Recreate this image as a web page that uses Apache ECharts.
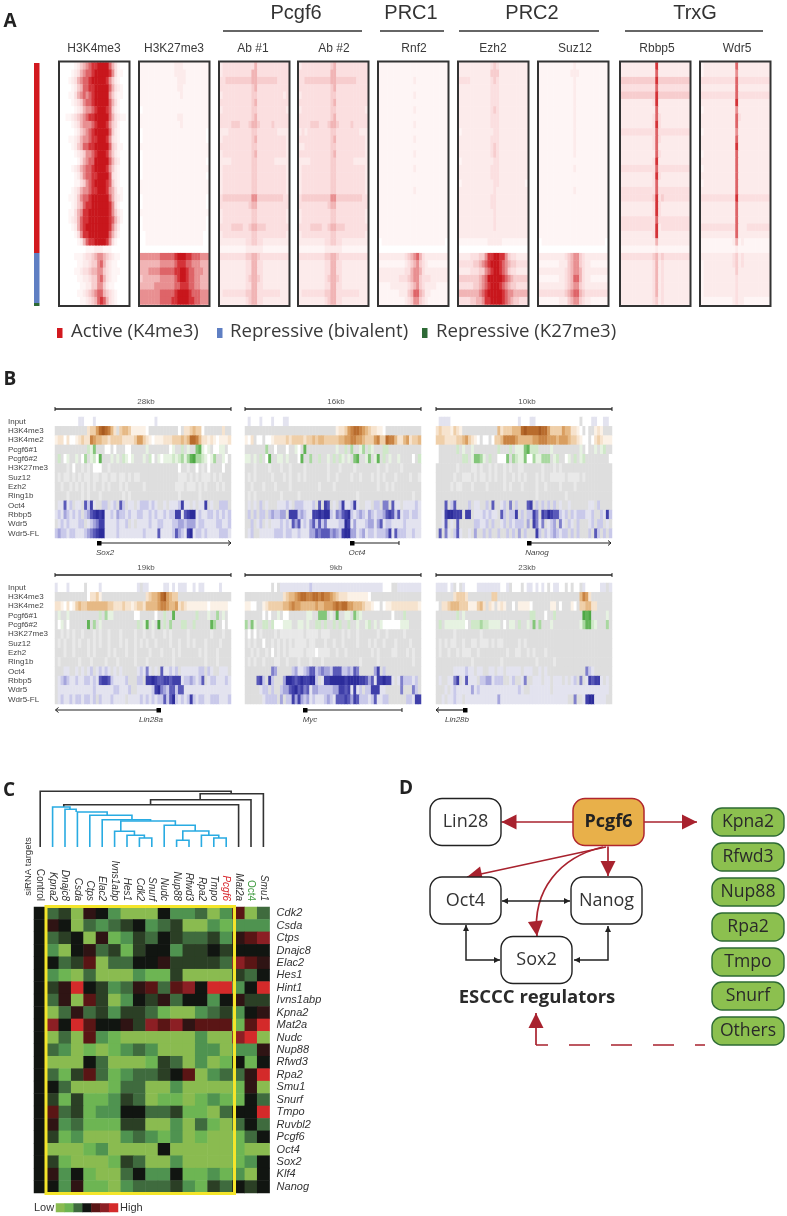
<!DOCTYPE html>
<html><head><meta charset="utf-8">
<style>html,body{margin:0;padding:0;background:#fff}#c{width:787px;height:1216px}</style>
<script src="https://cdn.jsdelivr.net/npm/echarts@6/dist/echarts.min.js"></script>
</head><body><div id="c"></div>
<script>
// ---------- Panel A: tag-density matrices (rows top to bottom, digit = signal 0-9) ----------
const a_H3K4me3=["000001245678899997531000","000012356778999998631100","000123567789999986421000","000012457788999997532100","000113567678999996421100","000012346778999997531000","000001235667899987421000","001123456788999997532110","000012356667899986431000","000001245678999997421000","000112356678899986321000","000012457788999997431100","000001234667899986421000","000000135677999997532000","000012356778999986421000","000001246778899997321000","000001134678999987421000","000012356678899986531100","000112467789999997532100","000012457889999998631000","000113568899999998642100","000123578899999998753100","000012578999999998642000","000001368899999997531000","000000125788999986310000","000000000111222111000000","000001112334566543211000","000000112234467532110000","000001123345566432111000","000000112234467532110000","000000011224466421100000","000000112345677543210000","000000011234578753210000"];
const a_H3K27me3=["111111111111222111111111","111111111111222211111111","111111111111122211111111","111111111111122111111111","111111111111112111111111","111111111111111111111111","011111111111111111111111","111111111111122111111111","111111111111112111111111","011111111111111111111110","011111111111111111111110","111111111111111111111111","011111111111111111111111","011111111111111111111110","011111111111111111111111","011111111111111111111110","111111111111111111111111","111111111111111111111111","011111111111111111111110","011111111111111111111110","111111111111111111111111","011111111111111111111110","011111111111111111111110","001111111111111111111100","001111111111111111111100","000000000000000000000000","666666677777899988777666","555555566666788877666555","555666677777889987766655","455555566666789987766555","555556666666778887766555","666666677777899998777666","666666677778899998877666"];
const a_Ab1=["233333333333533333333333","233333333335533333333333","334444444445544444443333","333333333334533333333333","233333333334433333333323","333333333334533333333333","233333333334433333333332","333333333334533333333333","333344433345543333433333","222333333334433333332222","233333333334533333333332","333333333334433333333332","233333333334533333333332","222233333334433333322222","233333333334433333333332","233333333334433333333332","233333333334433333333332","233333333334433333333332","344444444446644444444433","333333333345533333333333","233333333334433333333332","233333333334433333333332","333344443345544433333333","233333333334433333333332","222222222334433222222222","111111111222222111111111","333333333445543333333333","222222222335533222222222","222222222335533222222222","222222222345543222222222","222222222335533222222222","233333333445533333333222","222222222345533222222222"];
const a_Ab2=["233333333334533333333333","333333333335533333333333","334444444445544444443333","333333333334533333333333","233333333334433333333333","333333333334533333333333","233333333334433333333332","333333333334533333333333","333344433345543333433333","232333333334433333333222","333333333334533333333332","223333333334433333333332","333333333334533333333332","222233333334433333322222","233333333334433333333332","233333333334433333333332","233333333334433333333332","233333333334433333333332","344444444446644444444433","333333333345533333333333","233333333334433333333332","233333333334433333333332","333344443345544433333333","233333333334433333333332","222222222334433222222222","111111111222222111111111","333333333445543333333333","222222222335533222222222","222222222335533222222222","222222222345543222222222","222222222335533222222222","233333333445533333333222","222222222345533222222222"];
const a_Rnf2=["111111111111111111111111","111111111111111111111111","111111111111211111111111","111111111111111111111111","111111111111211111111111","111111111111111111111111","111111111111211111111111","111111111111111111111111","111111111111211111111111","111111111111111111111111","111111111111211111111111","111111111111111111111111","111111111111211111111111","111111111111111111111111","111111111111211111111111","111111111111111111111111","111111111111111111111111","111111111111211111111111","111111111111111111111111","111111111111111111111111","111111111111111111111111","111111111111111111111111","111111111111111111111111","111111111111111111111111","011111111111111111111110","000000000000000000000000","222222222345675322222222","111111111234564321111111","222222222335665322222222","222222233345664333222222","111122222234564322221111","111111122245775422111111","111111111234664321111111"];
const a_Ezh2=["222222222223432222222222","222222222224442222222222","333322222223432222222222","222222222223332222222222","222222222223332222222222","222222222223332222222222","222222222223432222222222","222222222223332222222222","222222222223332222222222","122222222222332222222222","222222222223332222222222","222222222223432222222222","222222222223432222222222","122222222222332222222222","222222222223332222222222","222222222223332222222222","122222222222332222222221","222222222222322222222222","222222222223322222222222","222222222223322222222222","222222222222322222222222","222222222222322222222222","222222222222322222222222","222222222222222222222222","111111111122222111111111","000000000000000000000000","222233344688998864332222","333334456789998765443333","222233344678998764332222","444444456799999876544444","333334456789998765443333","555555567899999876655555","333344556889999876544333"];
const a_Suz12=["111111111111211111111111","111111111112221111111111","111111111111211111111111","111111111111211111111111","111111111111211111111111","111111111111211111111111","111111111111211111111111","111111111111211111111111","111111111111211111111111","111111111111211111111111","111111111111211111111111","111111111111211111111111","111111111111211111111111","111111111111111111111111","111111111111211111111111","111111111111111111111111","111111111111111111111111","111111111111211111111111","111111111111111111111111","111111111111111111111111","111111111111111111111111","111111111111111111111111","111111111111111111111111","111111111111111111111111","011111111111111111111110","000000000000000000000000","222222222345664322222222","111111122245664322111111","222222222345665322222222","111111122345775322111111","222222222345664322222222","333333333456775433333333","111111122245664322111111"];
const a_Rbbp5=["222222222222822222222222","222222222222722222222222","444444444444844444444444","333333333333733333333333","444444444444844444444444","222222222223822222222222","222222222222722222222222","222222222223732222222222","222222222223832222222222","333333333333733333333333","222222222223732222222222","222222222223722222222222","222222222222732222222222","222222222223822222222222","333333333333733333333333","222222222223832222222222","222222222223722222222222","333333333333733333333333","333333333334834333333333","222222222223832222222222","222222222223832222222222","333333333333733333333333","333333333333823333333333","222222222223822222222222","222222222222522222222222","111111111111211111111111","333333333334534333333333","222222222223523222222222","222222222223523222222222","222222222223523222222222","222222222223523222222222","222222222223523222222222","222222222223423222222222"];
const a_Wdr5=["122222222222722222222222","122222222222622222222222","333333333333733333333333","222222222222722222222222","333333333333733333333333","222222222222822222222222","122222222222622222222222","222222222222732222222222","222222222222722222222222","122222222222622222222222","222222222222722222222222","222222222222822222222222","122222222222722222222222","222222222222722222222222","122222222222722222222222","222222222222722222222222","122222222222722222222222","222222222222722222222222","333333333333833333333333","222222222222722222222222","222222222222722222222222","222222222222722222222222","333333333333722233333333","222222222222722222222222","111111111112512111111111","111111111111211111111111","222222222223423222222222","122222222223423222222222","122222222222422222222222","122222222222322222222222","122222222222322222222222","122222222222322222222222","111111111112322111111111"];
const heatmapA=[["H3K4me3",a_H3K4me3],["H3K27me3",a_H3K27me3],["Ab #1",a_Ab1],["Ab #2",a_Ab2],["Rnf2",a_Rnf2],["Ezh2",a_Ezh2],["Suz12",a_Suz12],["Rbbp5",a_Rbbp5],["Wdr5",a_Wdr5]];
const heatLefts=[59,139,219,298,378,458,538,620,700];
const redScale=['#ffffff','#fef5f5','#fcebeb','#fbdfe0','#f7cdce','#f1b4b5','#e88f91','#de6468','#d43338','#c8161c'];
const groupTitles=[["Pcgf6",296,223,362],["PRC1",411,380,444],["PRC2",532,459,599],["TrxG",695,625,763]];
const classCounts=[["Active (K4me3)",190,'#d2191f'],["Repressive (bivalent)",50,'#5f7fc3'],["Repressive (K27me3)",3,'#2e6a36']];

// ---------- Panel B: genome browser tracks (digit = signal; 0 grey, 1 white, 2-9 rising) ----------
const trackNames=["Input","H3K4me3","H3K4me2","Pcgf6#1","Pcgf6#2","H3K27me3","Suz12","Ezh2","Ring1b","Oct4","Rbbp5","Wdr5","Wdr5-FL"];
const t_Sox2=["111111112211121111111111111111111121111111111111111111111111","000000000003446898753045542222210000000000103345441000000300","233131123433765544344443333466432122233344454588753323212223","000000000003250001101000110000020000000120030200562120112201","030120020140231600020203212000203102122232342467443212400210","000020100202011100200000000000000000000000100200102010000100","020220202022022022022022020220000000000000222020202220202000","002002020202020020200020200000200000000002220222020200020200","000020000202000200000002020000000000000000200000020000000000","022623022063720033023063022023332320020222372202022702003330","232432323034678782232433232233223232232337726788232233232323","023232223302345772222322302022223223322233443444233222233223","343323322234567882222322222222322226222236432782332322223332"];
const t_Oct4=["121112111211122111111111111111111111111111111111111111111111","000000000000000000000000000000023346788765433221000000000000","213011011233334344443445455444445566776654446744877533563445","000000040010001002106000000000020030400240320003300000000000","220203016002202000160040030020303202056002502603020020000103","000200002000200200002000000020002000020000000200200002000000","020200000200020200202000000020020000200200020202000200002002","002000200020000200000000020000200000000000000200202000000000","020200000000200000200000000000000000002000000000000000000200","020203020002223203332223060760203722372002203305506220222232","030303303433440777343227787883254678323432432334676362332332","003023020222323264623246363522223387242223442462332222322222","023002222233323322322244656664543788442342332333472633322322"];
const t_Nanog=["122221111111111111111111111121112211111111111111101112211221","343332432000000000000534445558988889886444465533210100232000","444333344564321011014457777655555667776665666544321101343222","100000030200200000000300030222563330000200000000020100202300","100000000330255420300111504322511422444023001203023000000001","000000020000220200202002020022000000200020200000000000000000","000000200222020220202002002020200020200222220222202000000000","000002022000200002000002020002000020020000200002000000000000","000000000000000000000000000000000020000000002000000000000000","000603600003022003060023050300067030303030200200000022030000","002788777077022232322063033703033750768766323032333223003273","002602060000033223030023032333040752502340520320300023033020","060520362002040030300300303040300073032343233030300030630303"];
const t_Lin28a=["211121111101111211111111111120221111122121222112122111112111","000000000001334200000000000000034556896544000000000000000000","332131245445555555443334332344355556776556343222222212222221","020020000000000304220000000110000010030060000000300020040201","012010000006040200000000000030260207030400033003000006400101","002020200200020200200020000200200200020200000200000002000200","020200202002020200200020200202020020000200200202000200002000","000200200002020000202000200200002000200020200000020200020000","020000002000200002000200000200020000000020000000000200020000","000220020202302323202020000023252020622323022222233032002220","023432232233232677632222300033077876677677723343236023322232","022222222222232222223322230022222378543663662222222222222222","023223233233230322232222022223232323363683232373233223332223"];
const t_Myc=["111111111010222222222232222222222222222222222221110022222222","000000000000034556788778878776543332222222100000000000000000","221100234444455676655555655666787886655543321101223333333332","000000101002011000000220055502060022053200000000001000300000","405200330311122200220200330300303003002002302021111112220000","010102000020233233220222202220000202002000000200200000200000","020200100202020202222022000200200200002000202002000200002000","002020020102020222220222122220020020000000020200002200020200","020200200022002000200020002000000000000200000200000000000200","000000000540000034223466345443666334365000004703000000000000","000067307300048876787788302778888878888776462778772025333230","000002330300344678675624433333447767272303377722000005000530","000000233330403374743423222343266676476333236223300000033277"];
const t_Lin28b=["222212010211112222222211201110122121210122110101102111112202","000000344430000000044000000000000000000000000000057630000000","103345554442224530320232001022221000000220100021044553300000","000000030200000000000000000000003300010030000000007670000020","030222222210333433222201022030020504000200000000024663200040","000000200000000200000000000000000000000000000000000000000000","020202200200220222020220000020200000000000000000000000000000","020020020222002000000000200220020200020000000000000000000000","000000000000200000000020000000000020000020000000000000000000","000000222232202200220220222220222002020000000000000532000000","020022570262220334423330023002500222022022202023050276772020","000202322222423222222222222232002222222022222222222222222220","002022322022222222222422222222222222222222222005002788222200"];
const trackPanels=[["28kb",t_Sox2,55,417,true],["16kb",t_Oct4,245,417,false],["10kb",t_Nanog,436,417,false],["19kb",t_Lin28a,55,583,true],["9kb",t_Myc,245,583,false],["23kb",t_Lin28b,436,583,false]];
const brownScale=['#dedede','#ffffff','#fbf1e6','#f6e3ce','#efcfa9','#e6b985','#d99e60','#c98343','#b96c2d','#a85a20'];
const greenScale=['#dedede','#ffffff','#e6f2e1','#cfe8c8','#a9d8a0','#84c67a','#62b457','#4fa845','#439c3a','#3a9232'];
const greyScale=['#dedede','#ffffff','#e9e9e9','#e8e8e8','#e4e4e4','#e2e2e2','#e0e0e0','#dedede','#dedede','#dedede'];
const blueScale=['#dedede','#ffffff','#e3e3ef','#c9c9ea','#a5a5dc','#7f7fcb','#5a5ab9','#3f3fa9','#2c2c9b','#20208c'];
const trackScales=[blueScale,brownScale,brownScale,greenScale,greenScale,greyScale,greyScale,greyScale,greyScale,blueScale,blueScale,blueScale,blueScale];
// gene models: [name, x of TSS box, x start, x end, arrow at end ('r','l','|'), label centre, row y]
const genes=[["Sox2",99,99,231,'r',105,543],["Oct4",352,352,399,'|',357,543],["Nanog",529,529,611,'r',537,543],["Lin28a",158.5,158.5,55.5,'l',151,710],["Myc",305,305,402,'|',310,710],["Lin28b",465,465,436,'l',457,710]];

// ---------- Panel C: siRNA expression matrix ----------
const siColumns=["Control","Kpna2","Dnajc8","Csda","Ctps","Elac2","Ivns1abp","Hes1","Cdk2","Snurf","Nudc","Nup88","Rfwd3","Rpa2","Tmpo","Pcgf6","Mat2a","Oct4","Smu1"];
const siRows=["Cdk2","Csda","Ctps","Dnajc8","Elac2","Hes1","Hint1","Ivns1abp","Kpna2","Mat2a","Nudc","Nup88","Rfwd3","Rpa2","Smu1","Snurf","Tmpo","Ruvbl2","Pcgf6","Oct4","Sox2","Klf4","Nanog"];
const siValues=[
[5,3,4,0,6,5,2,0,0,0,5,2,2,3,0,2,7,0,3],
[5,6,5,0,3,2,3,4,5,2,3,4,0,0,2,1,2,2,2],
[5,3,4,5,0,6,1,2,4,3,5,4,3,3,4,2,6,7,8],
[5,2,0,5,6,3,4,1,4,5,5,2,4,4,5,4,5,5,5],
[5,5,3,4,7,0,3,3,5,5,6,4,4,4,4,3,8,7,6],
[5,2,1,0,3,0,0,0,2,1,1,4,0,0,0,0,4,3,5],
[5,4,6,9,5,4,2,3,6,7,3,7,8,5,9,9,2,5,9],
[5,3,6,0,7,4,0,2,5,4,6,3,5,5,2,5,6,4,4],
[5,0,3,6,3,4,2,4,4,3,1,0,0,2,3,4,2,5,6],
[5,8,5,9,7,5,5,6,4,8,7,8,6,7,7,7,1,7,9],
[5,0,3,0,7,2,1,0,0,0,0,0,0,2,0,0,8,9,0],
[5,3,2,0,1,0,1,2,3,2,0,0,0,2,2,0,2,2,6],
[5,0,0,0,5,3,0,0,0,1,4,3,0,2,0,1,5,1,5],
[5,3,1,4,7,3,1,2,3,3,4,5,7,0,2,3,3,6,9],
[5,5,3,0,0,0,1,3,3,0,0,2,0,0,0,0,1,6,0],
[5,4,1,4,1,1,2,4,3,0,1,1,0,1,2,1,1,5,3],
[5,7,3,4,1,2,2,5,5,3,3,4,1,1,0,3,5,5,9],
[5,6,2,3,1,1,1,4,4,0,0,2,0,3,1,0,3,5,3],
[5,4,1,2,0,0,0,2,3,2,1,2,0,1,0,0,1,3,5],
[5,0,0,0,1,2,0,0,0,0,5,0,0,0,0,0,1,0,0],
[5,4,1,0,0,0,1,4,3,0,0,2,0,0,0,0,1,2,5],
[5,6,2,5,1,0,0,3,5,2,2,5,1,1,2,1,2,0,5],
[5,5,2,6,1,1,0,2,3,3,3,4,2,1,4,3,5,4,5]];
const siScale=['#8abb50','#6db553','#4f9350','#3f6b3e','#2b3f25','#111511','#2f1414','#5a1515','#8c1f24','#d42a2a'];
const legendSteps=[0,1,3,5,7,8,9];
// dendrogram merges: [x left, height of left child, x right, height of right child, merge height]
const dendroBlue=[[1,0,2.4,37.7,40],[2,0,2.9,35,37.7],[3,0,5.4,31.7,35],[4,0,7.4,27.3,31.7],[5,0,8.9,26,27.3],[6.5,15.7,10.9,21.7,26],[6,0,7.6,11.7,15.7],[7,0,8.4,9,11.7],[8,0,9,0,9],[10,0,12.5,16,21.7],[11.5,6.7,13.6,11.7,16],[11,0,12,0,6.7],[13,0,14.4,9,11.7],[14,0,15,0,9]];
const dendroBlack=[[0,0,15.4,53.3,55.7],[12.9,47.3,18,0,53.3],[8.9,42.3,17,0,47.3],[1.9,40,16,0,42.3]];

// ---------- Panel D: regulatory network ----------
const netNodes=[
 {n:"Lin28",x:465.5,y:822,k:'w'},{n:"Pcgf6",x:608.5,y:822,k:'o'},{n:"Oct4",x:465.5,y:900.5,k:'w'},{n:"Nanog",x:606.5,y:900.5,k:'w'},{n:"Sox2",x:536.5,y:960,k:'w'},
 {n:"Kpna2",x:748,y:822,k:'g'},{n:"Rfwd3",x:748,y:857,k:'g'},{n:"Nup88",x:748,y:892,k:'g'},{n:"Rpa2",x:748,y:927,k:'g'},{n:"Tmpo",x:748,y:962,k:'g'},{n:"Snurf",x:748,y:996,k:'g'},{n:"Others",x:748,y:1031,k:'g'}];
const netEdges=[
 {p:[[573,822],[501.5,822]],c:'r',end:15},{p:[[644,822],[697,822]],c:'r',end:15},{p:[[608,846.5],[608,876]],c:'r',end:15},{p:[[606,847],[467,877]],c:'r',end:15},
 {p:[[603,847],[560,857],[532,890],[537,936]],c:'r',end:15,curve:1},
 {p:[[502,901],[570,901]],c:'k',end:6,start:6},{p:[[466,925],[466,960],[500,960]],c:'k',end:6,start:6},{p:[[608,926],[608,960],[574,960]],c:'k',end:6,start:6},
 {p:[[536,1045],[536,1013]],c:'r',end:15,from:1},{p:[[705,1045],[536,1045]],c:'r',dash:1}];

// ---------- Build ----------
const FONT='"Liberation Sans",Arial,sans-serif', HUM='"Open Sans",sans-serif';
const grid=[],xAxis=[],yAxis=[],series=[],graphic=[];
const txt=(text,x,y,font,fill,align,extra)=>graphic.push(Object.assign({type:'text',x,y,z:50,style:{text,font,fill:fill||'#333',textAlign:align||'center',textVerticalAlign:'middle'}},extra||{}));
const ln=(x1,y1,x2,y2,w,col)=>graphic.push({type:'line',z:50,shape:{x1,y1,x2,y2},style:{stroke:col||'#333',lineWidth:w||1}});
const addGrid=(l,t,w,h,xa,ya)=>{grid.push({left:l,top:t,width:w,height:h,containLabel:false});xAxis.push(Object.assign({gridIndex:grid.length-1},xa));yAxis.push(Object.assign({gridIndex:grid.length-1},ya));return grid.length-1;};
const rng=n=>Array.from({length:n},(_,i)=>String(i));
const hiddenCat=n=>({type:'category',data:rng(n),show:false,axisTick:{show:false},axisLine:{show:false},splitLine:{show:false}});
const digits=s=>[...s].map(Number);

// Panel A
const redIdx=[];
heatmapA.forEach(([label,rows],k)=>{
  const L=heatLefts[k], nc=rows[0].length;
  const g=addGrid(L+1,62.5,69,242,hiddenCat(nc),Object.assign(hiddenCat(rows.length),{inverse:true}));
  const d=[];rows.forEach((r,y)=>digits(r).forEach((v,x)=>d.push([x,y,v])));
  redIdx.push(series.length);
  series.push({type:'heatmap',name:label,xAxisIndex:g,yAxisIndex:g,data:d,progressive:0,silent:true,itemStyle:{borderWidth:0}});
  graphic.push({type:'rect',z:40,shape:{x:L,y:61.5,width:70.5,height:244.5},style:{fill:'rgba(0,0,0,0)',stroke:'#333',lineWidth:2}});
  txt(label,[94,174,253,334,414,493,575,657,737][k],49,'12px '+FONT,'#3a3a3a');
});
groupTitles.forEach(([t,c,a,b])=>{txt(t,c,13,'20px '+FONT,'#333');ln(a,31,b,31,1.6,'#333');});
const gs=addGrid(34,63,5.5,243,{type:'category',data:['genes'],show:false},{type:'value',inverse:true,min:0,max:243,show:false,splitLine:{show:false}});
classCounts.forEach(([n,v,c])=>series.push({type:'bar',name:n,stack:'cls',xAxisIndex:gs,yAxisIndex:gs,data:[v],barWidth:'100%',itemStyle:{color:c},silent:true}));
[[57,71],[217,230],[422,436]].forEach(([sx,tx],i)=>{
  graphic.push({type:'rect',z:50,shape:{x:sx,y:328,width:5.5,height:10},style:{fill:classCounts[i][2]}});
  txt(classCounts[i][0],tx,332,'18.6px '+HUM,'#3a3a3a','left');
});
txt('A',10,22,'bold 19px '+HUM,'#222');

// Panel B
trackPanels.forEach(([kb,rows,L,T,showLab])=>{
  const g=addGrid(L,T,176,121,hiddenCat(60),{type:'category',inverse:true,data:trackNames,
    axisTick:{show:false},axisLine:{show:false},
    axisLabel:{show:showLab,fontFamily:FONT,fontSize:8,color:'#444',align:'left',margin:47,interval:0}});
  const d=[];
  rows.forEach((r,y)=>digits(r.padEnd(60,'0').slice(0,60)).forEach((v,x)=>d.push({value:[x,y,v],itemStyle:{color:trackScales[y][v]}})));
  series.push({type:'heatmap',name:kb,xAxisIndex:g,yAxisIndex:g,data:d,progressive:0,silent:true});
  const yb=T-8;
  ln(L,yb,L+176,yb,1.3,'#222');ln(L,yb-2,L,yb+2,1,'#222');ln(L+176,yb-2,L+176,yb+2,1,'#222');
  txt(kb,L+91,yb-7,'8px '+FONT,'#555');
});
genes.forEach(([n,bx,a,b,end,lx,y])=>{
  ln(a,y,b,y,1.2,'#222');
  graphic.push({type:'rect',z:51,shape:{x:bx-2,y:y-2,width:4.5,height:4.5},style:{fill:'#000'}});
  if(end==='|')ln(b,y-2,b,y+2,1,'#222');
  else{const s=end==='r'?-1:1;graphic.push({type:'polyline',z:51,shape:{points:[[b-s*-3,y-2.5],[b,y],[b-s*-3,y+2.5]]},style:{stroke:'#222',fill:'none',lineWidth:1}});}
  txt(n,lx,y+10,'italic 8px '+FONT,'#444');
});
txt('B',10,380,'bold 19px '+HUM,'#222');

// Panel C
const gc=addGrid(34,907,235.6,286,
 {type:'category',position:'top',data:siColumns,axisTick:{show:false},axisLine:{show:false},
  axisLabel:{interval:0,rotate:90,margin:6,formatter:v=>`{${v==='Control'?'n':v==='Pcgf6'?'r':v==='Oct4'?'g':'i'}|${v}}`,
   rich:{n:{fontFamily:FONT,fontSize:10,color:'#333'},i:{fontFamily:FONT,fontSize:10,fontStyle:'italic',color:'#333'},r:{fontFamily:FONT,fontSize:10,fontStyle:'italic',color:'#d8262c'},g:{fontFamily:FONT,fontSize:10,color:'#3f9b3f'}}}},
 {type:'category',position:'right',inverse:true,data:siRows,axisTick:{show:false},axisLine:{show:false},
  axisLabel:{interval:0,fontFamily:FONT,fontSize:11,fontStyle:'italic',color:'#333',margin:7}});
const siIdx=[series.length];
const dC=[];siValues.forEach((r,y)=>r.forEach((v,x)=>dC.push([x,y,v])));
series.push({type:'heatmap',name:'siRNA',xAxisIndex:gc,yAxisIndex:gc,data:dC,progressive:0,silent:true});
graphic.push({type:'rect',z:45,shape:{x:46,y:906.5,width:188.5,height:287},style:{fill:'rgba(0,0,0,0)',stroke:'#f4e52a',lineWidth:3}});
txt('siRNA targets',28,866.5,'9.5px '+FONT,'#333','center',{rotation:Math.PI/2});
txt('C',9,791,'bold 19px '+HUM,'#222');
const gl=addGrid(56,1203.5,62,8.5,hiddenCat(legendSteps.length),hiddenCat(1));
siIdx.push(series.length);
series.push({type:'heatmap',name:'scale',xAxisIndex:gl,yAxisIndex:gl,data:legendSteps.map((v,i)=>[i,0,v]),progressive:0,silent:true});
txt('Low',34,1208,'11px '+FONT,'#333','left');txt('High',120,1208,'11px '+FONT,'#333','left');
// dendrogram
const gd=addGrid(34,791,235.6,56,{type:'value',min:-0.5,max:18.5,show:false,splitLine:{show:false}},{type:'value',min:0,max:56,show:false,splitLine:{show:false}});
const dendroSeries=(rows,color,z)=>({type:'custom',name:'dendrogram',xAxisIndex:gd,yAxisIndex:gd,silent:true,z,clip:false,data:rows,
  renderItem:(p,api)=>{const [x1,h1,x2,h2,h]=[0,1,2,3,4].map(i=>api.value(i));
    return {type:'polyline',shape:{points:[api.coord([x1,h1]),api.coord([x1,h]),api.coord([x2,h]),api.coord([x2,h2])]},style:{stroke:color,lineWidth:1.6,fill:null}};}});
series.push(dendroSeries(dendroBlack,'#333',2),dendroSeries(dendroBlue,'#29abe2',3));

// Panel D
const gn=addGrid(390,770,397,290,{type:'value',min:390,max:787,show:false,splitLine:{show:false}},{type:'value',min:770,max:1060,inverse:true,show:false,splitLine:{show:false}});
const RED='#a8222e',KEY='#222';
const head=(api,a,b,size,col)=>{const t=Math.atan2(b[1]-a[1],b[0]-a[0]),w=size/2;
  return {type:'polygon',shape:{points:[b,[b[0]-size*Math.cos(t)+w*Math.sin(t),b[1]-size*Math.sin(t)-w*Math.cos(t)],[b[0]-size*Math.cos(t)-w*Math.sin(t),b[1]-size*Math.sin(t)+w*Math.cos(t)]]},style:{fill:col}};};
series.push({type:'custom',name:'edges',xAxisIndex:gn,yAxisIndex:gn,silent:true,z:3,clip:false,data:netEdges.map(e=>e.p[0]),
 renderItem:(params,api)=>{const e=netEdges[params.dataIndex],pts=e.p.map(q=>api.coord(q)),col=e.c==='r'?RED:KEY,ch=[];
  const lw=e.c==='r'?1.7:1.5;
  if(e.curve)ch.push({type:'bezierCurve',shape:{x1:pts[0][0],y1:pts[0][1],cpx1:pts[1][0],cpy1:pts[1][1],cpx2:pts[2][0],cpy2:pts[2][1],x2:pts[3][0],y2:pts[3][1]},style:{stroke:col,lineWidth:lw,fill:null}});
  else ch.push({type:'polyline',shape:{points:pts},style:{stroke:col,lineWidth:lw,fill:null,lineDash:e.dash?[21,21]:null,lineDashOffset:e.dash?11:0}});
  const n=pts.length;
  if(e.end)ch.push(head(api,pts[n-2],pts[n-1],e.end,col));
  if(e.start)ch.push(head(api,pts[1],pts[0],e.start,col));
  return {type:'group',children:ch};}});
const kinds={w:{w:71,h:47,r:12,fill:'#fff',st:'#222',lw:1.4,font:'18px '+HUM,col:'#333'},o:{w:71,h:47,r:12,fill:'#e8b04a',st:'#b0262e',lw:1.5,font:'bold 18px '+HUM,col:'#222'},g:{w:72,h:28,r:10,fill:'#8cc04f',st:'#2e6b34',lw:1.4,font:'17.6px '+HUM,col:'#2a2a2a'}};
series.push({type:'custom',name:'nodes',xAxisIndex:gn,yAxisIndex:gn,silent:true,z:4,clip:false,data:netNodes.map(n=>[n.x,n.y]),
 renderItem:(params,api)=>{const n=netNodes[params.dataIndex],k=kinds[n.k],c=api.coord([n.x,n.y]);
  return {type:'group',children:[{type:'rect',shape:{x:c[0]-k.w/2,y:c[1]-k.h/2,width:k.w,height:k.h,r:k.r},style:{fill:k.fill,stroke:k.st,lineWidth:k.lw}},
   {type:'text',style:{x:c[0],y:c[1],text:n.n,font:k.font,fill:k.col,textAlign:'center',textVerticalAlign:'middle'}}]};}});
txt('ESCCC regulators',537,998,'bold 18.5px '+HUM,'#2a2a2a');
txt('D',406,789,'bold 19px '+HUM,'#222');

const chart=echarts.init(document.getElementById('c'),null,{renderer:'canvas',width:787,height:1216});
chart.setOption({animation:false,backgroundColor:'#fff',grid,xAxis,yAxis,series,graphic,
 visualMap:[
  {type:'continuous',show:false,min:0,max:9,seriesIndex:redIdx,inRange:{color:redScale}},
  {type:'continuous',show:false,min:0,max:9,seriesIndex:siIdx,inRange:{color:siScale}}]});
</script></body></html>
